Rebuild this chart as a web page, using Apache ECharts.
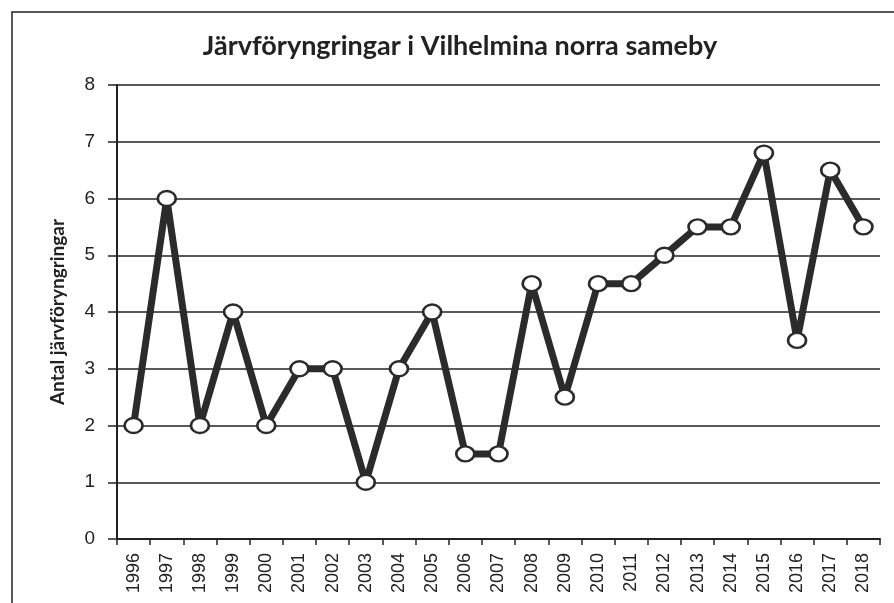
<!DOCTYPE html>
<html>
<head>
<meta charset="utf-8">
<script src="https://cdn.jsdelivr.net/npm/echarts@6/dist/echarts.min.js"></script>
<style>
  html, body { margin: 0; padding: 0; background: #fff; }
  #chart { width: 894px; height: 603px; }
</style>
</head>
<body>
<div id="chart"></div>
<script>
// årtal och antal föryngringar
const years = ['1996', '1997', '1998', '1999', '2000', '2001', '2002', '2003', '2004', '2005', '2006', '2007',
  '2008', '2009', '2010', '2011', '2012', '2013', '2014', '2015', '2016', '2017', '2018']
const counts = [2, 6, 2, 4, 2, 3, 3, 1, 3, 4, 1.5, 1.5, 4.5, 2.5, 4.5, 4.5, 5, 5.5, 5.5, 6.8, 3.5, 6.5, 5.5]

const chart = echarts.init(document.getElementById('chart'))
chart.setOption({
  animation: false,
  graphic: [
    {
      type: 'rect',
      shape: { x: 12, y: 12, width: 900, height: 620 },
      style: { fill: 'none', stroke: '#222', lineWidth: 1.5 },
      silent: true
    }
  ],
  title: {
    text: 'Järvföryngringar i Vilhelmina norra sameby',
    left: 455,
    top: 28,
    textAlign: 'center',
    textStyle: { fontFamily: 'Lato', fontSize: 27, fontWeight: 'bold', color: '#222' }
  },
  grid: { left: 117, right: 14, top: 85, bottom: 64 },
  xAxis: {
    type: 'category',
    data: years,
    boundaryGap: true,
    axisLine: { lineStyle: { color: '#222', width: 2 } },
    axisTick: { show: true, length: 6, lineStyle: { color: '#222', width: 1.5 } },
    axisLabel: {
      rotate: 90,
      interval: 0,
      margin: 14,
      fontFamily: 'Liberation Sans',
      fontSize: 18,
      color: '#222'
    }
  },
  yAxis: {
    type: 'value',
    min: 0,
    max: 8,
    interval: 1,
    name: 'Antal järvföryngringar',
    nameLocation: 'middle',
    nameGap: 50,
    nameTextStyle: { fontFamily: 'Lato', fontSize: 19, fontWeight: 'bold', color: '#222' },
    axisLine: { show: true, lineStyle: { color: '#222', width: 2 } },
    axisTick: { show: true, length: 9, lineStyle: { color: '#222', width: 1.5 } },
    axisLabel: { margin: 22, fontFamily: 'Liberation Sans', fontSize: 19, color: '#222' },
    splitLine: { lineStyle: { color: '#222', width: 1.5 } }
  },
  series: [
    {
      type: 'line',
      data: counts,
      symbol: 'circle',
      symbolSize: [18, 15],
      lineStyle: { color: '#2b2b2b', width: 7 },
      itemStyle: { color: '#fff', borderColor: '#2b2b2b', borderWidth: 2.5 },
      z: 3
    }
  ]
})
window.addEventListener('resize', chart.resize)
</script>
</body>
</html>
